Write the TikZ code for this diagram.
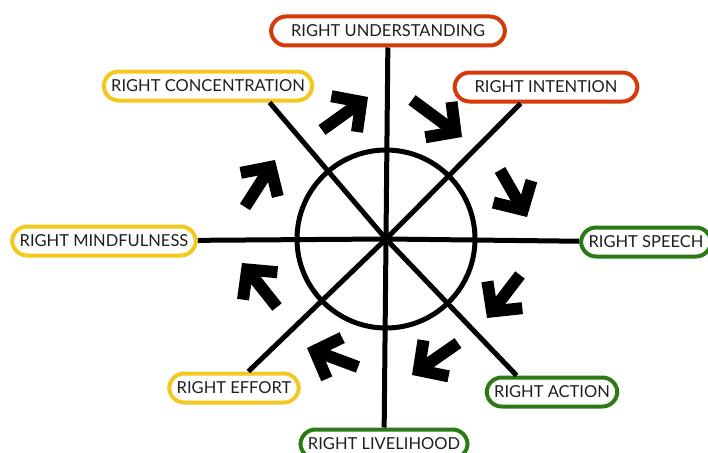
\documentclass[tikz,border=0pt]{standalone}
\usepackage{fontspec}
\setmainfont{Lato}
\usetikzlibrary{arrows.meta}
\definecolor{pathred}{RGB}{214,58,8}
\definecolor{pathgreen}{RGB}{42,122,22}
\definecolor{pathyellow}{RGB}{244,200,32}
\definecolor{labelink}{RGB}{30,30,30}

\begin{document}
\begin{tikzpicture}[x=1pt,y=-1pt,font=\fontsize{16.5}{18}\selectfont,
  stage/.style={draw=#1,line width=4pt,rounded corners=15pt,fill=white,text=labelink,
    minimum height=29pt,inner xsep=7.5pt,inner ysep=0pt},
  spoke/.style={line width=5pt},
  turn/.style={line width=12pt,-{Straight Barb[length=21pt,width=44pt,line width=12pt]}}]
\useasboundingbox (0,0) rectangle (708,452);

% ===== WHEEL =====
\coordinate (hub) at (386,239);
\draw[spoke] (hub) circle[radius=89];

% ===== STAGES (red / green / yellow) =====
\node[stage=pathred,inner xsep=20pt] (understanding) at (388,31) {RIGHT UNDERSTANDING};
\node[stage=pathred,inner xsep=20pt] (intention) at (546,87) {RIGHT INTENTION};
\node[stage=pathgreen] (speech) at (646,242) {RIGHT SPEECH};
\node[stage=pathgreen] (action) at (552,392) {RIGHT ACTION};
\node[stage=pathgreen] (livelihood) at (384,444) {RIGHT LIVELIHOOD};
\node[stage=pathyellow] (effort) at (234,388) {RIGHT EFFORT};
\node[stage=pathyellow] (mindfulness) at (104,241) {RIGHT MINDFULNESS};
\node[stage=pathyellow] (concentration) at (208,86) {RIGHT CONCENTRATION};

% spokes from the hub to each stage
\foreach \e in {understanding,intention.213,speech,action.155,livelihood,effort.49,mindfulness,concentration.-15}
  \draw[spoke] (hub) -- (\e);

% ===== TURNING ARROWS (clockwise) =====
\foreach \ax/\ay/\bx/\by in {412/100/462/137, 500/170/527/217, 520/275/487/318, 458/343/412/375,
    358/367/307/348, 277/307/242/263, 245/207/275/160, 322/130/368/97}
  \draw[turn] (\ax,\ay) -- (\bx,\by);

\end{tikzpicture}
\end{document}
